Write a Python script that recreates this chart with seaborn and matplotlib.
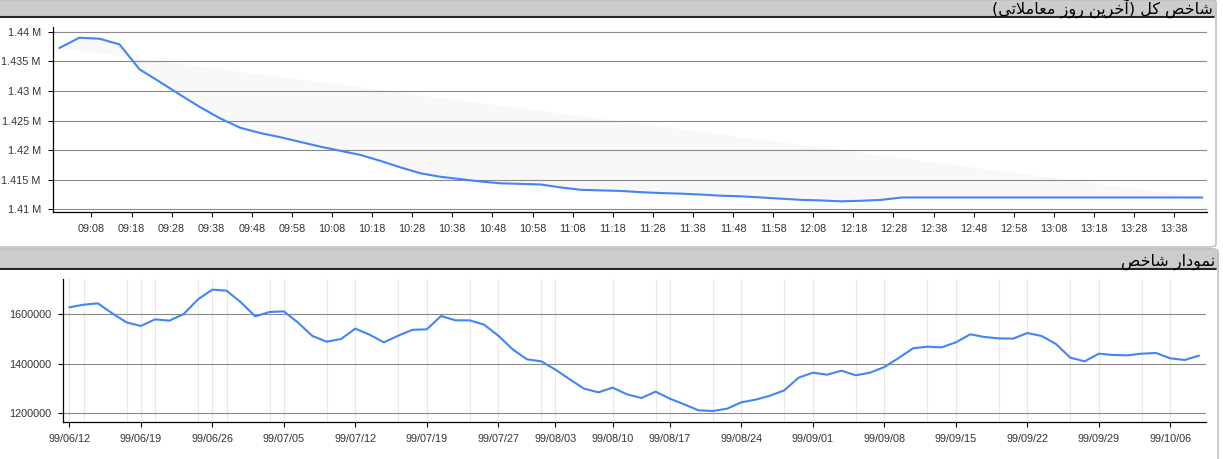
import matplotlib
matplotlib.use("Agg")
import matplotlib.pyplot as plt
from matplotlib.patches import FancyBboxPatch
from matplotlib.lines import Line2D
import seaborn as sns
import pandas as pd

# ---------------- data ----------------
top_title = "شاخص کل (آخرین روز معاملاتی)"
bottom_title = "نمودار شاخص"

intraday_times = [
    "09:00", "09:05", "09:10", "09:15", "09:20", "09:25", "09:30", "09:35", "09:40", "09:45",
    "09:50", "09:55", "10:00", "10:05", "10:10", "10:15", "10:20", "10:25", "10:30", "10:35",
    "10:40", "10:45", "10:50", "10:55", "11:00", "11:05", "11:10", "11:15", "11:20", "11:25",
    "11:30", "11:35", "11:40", "11:45", "11:50", "11:55", "12:00", "12:05", "12:10", "12:15",
    "12:20", "12:25", "12:30", "12:35", "12:40", "12:45", "12:50", "12:55", "13:00", "13:05",
    "13:10", "13:15", "13:20", "13:25", "13:30", "13:35", "13:40", "13:45",
]
intraday_values = [
    1437250, 1438990, 1438820, 1437870, 1433650, 1431550, 1429400, 1427300, 1425400, 1423800,
    1422900, 1422200, 1421400, 1420600, 1419900, 1419200, 1418200, 1417100, 1416100, 1415500,
    1415100, 1414700, 1414400, 1414300, 1414200, 1413700, 1413300, 1413200, 1413100, 1412900,
    1412750, 1412650, 1412500, 1412300, 1412200, 1412000, 1411800, 1411600, 1411500, 1411350,
    1411450, 1411600, 1412000, 1412000, 1412000, 1412000, 1412000, 1412000, 1412000, 1412000,
    1412000, 1412000, 1412000, 1412000, 1412000, 1412000, 1412000, 1412000,
]
intraday_tick_labels = [
    "09:08", "09:18", "09:28", "09:38", "09:48", "09:58", "10:08", "10:18", "10:28", "10:38",
    "10:48", "10:58", "11:08", "11:18", "11:28", "11:38", "11:48", "11:58", "12:08", "12:18",
    "12:28", "12:38", "12:48", "12:58", "13:08", "13:18", "13:28", "13:38",
]
intraday_y_ticks = [1410000, 1415000, 1420000, 1425000, 1430000, 1435000, 1440000]
intraday_y_labels = ["1.41 M", "1.415 M", "1.42 M", "1.425 M", "1.43 M", "1.435 M", "1.44 M"]

daily_values = [
    1628300, 1639000, 1644400, 1604000, 1567700, 1552900, 1579800, 1574400, 1601300, 1660600,
    1699700, 1695600, 1648500, 1591900, 1609400, 1612100, 1566300, 1512400, 1489500, 1500300,
    1542100, 1517800, 1486800, 1513800, 1537500, 1539400, 1593300, 1575800, 1575800, 1558200,
    1513800, 1458600, 1418200, 1410100, 1376400, 1337300, 1299600, 1284800, 1303700, 1276700,
    1261900, 1287500, 1259200, 1236300, 1212100, 1209400, 1218800, 1244400, 1255200, 1271300,
    1292800, 1344100, 1364300, 1356000, 1372400, 1353500, 1364300, 1387200, 1423500, 1462600,
    1469300, 1466600, 1486800, 1519200, 1508400, 1503000, 1501700, 1524600, 1512400, 1480100,
    1424900, 1410100, 1441100, 1435700, 1434300, 1441100, 1443700, 1422200, 1415500, 1433000,
]
daily_tick_index = [0, 5, 10, 15, 20, 25, 30, 34, 38, 42, 47, 52, 57, 62, 67, 72, 77]
daily_tick_labels = [
    "99/06/12", "99/06/19", "99/06/26", "99/07/05", "99/07/12", "99/07/19", "99/07/27",
    "99/08/03", "99/08/10", "99/08/17", "99/08/24", "99/09/01", "99/09/08", "99/09/15",
    "99/09/22", "99/09/29", "99/10/06",
]
daily_minor_grid_index = [1, 4, 6, 9, 11, 14, 18, 23, 28, 33, 41, 45, 50, 55, 60, 65, 70, 75]
daily_y_ticks = [1200000, 1400000, 1600000]
daily_y_labels = ["1200000", "1400000", "1600000"]


# ---------------- minimal Persian shaping for display ----------------
FORMS = {
    "\u0627": ("\uFE8D", "\uFE8E", None, None),
    "\u0622": ("\uFE81", "\uFE82", None, None),
    "\u0628": ("\uFE8F", "\uFE90", "\uFE91", "\uFE92"),
    "\u062A": ("\uFE95", "\uFE96", "\uFE97", "\uFE98"),
    "\u062E": ("\uFEA5", "\uFEA6", "\uFEA7", "\uFEA8"),
    "\u062F": ("\uFEA9", "\uFEAA", None, None),
    "\u0631": ("\uFEAD", "\uFEAE", None, None),
    "\u0632": ("\uFEAF", "\uFEB0", None, None),
    "\u0634": ("\uFEB5", "\uFEB6", "\uFEB7", "\uFEB8"),
    "\u0635": ("\uFEB9", "\uFEBA", "\uFEBB", "\uFEBC"),
    "\u0639": ("\uFEC9", "\uFECA", "\uFECB", "\uFECC"),
    "\u0643": ("\uFED9", "\uFEDA", "\uFEDB", "\uFEDC"),
    "\u0644": ("\uFEDD", "\uFEDE", "\uFEDF", "\uFEE0"),
    "\u0645": ("\uFEE1", "\uFEE2", "\uFEE3", "\uFEE4"),
    "\u0646": ("\uFEE5", "\uFEE6", "\uFEE7", "\uFEE8"),
    "\u0648": ("\uFEED", "\uFEEE", None, None),
    "\u0649": ("\uFEEF", "\uFEF0", None, None),
    "\u064A": ("\uFEF1", "\uFEF2", "\uFEF3", "\uFEF4"),
    "\u06A9": ("\uFB8E", "\uFB8F", "\uFB90", "\uFB91"),
    "\u06CC": ("\uFBFC", "\uFBFD", "\uFBFE", "\uFBFF"),
    "LA": ("\uFEFB", "\uFEFC", None, None),
    "LAA": ("\uFEF5", "\uFEF6", None, None),
}


def shape_rtl(text):
    chars = []
    i = 0
    while i < len(text):
        c = text[i]
        if c == "\u0644" and i + 1 < len(text) and text[i + 1] in ("\u0627", "\u0622"):
            chars.append("LA" if text[i + 1] == "\u0627" else "LAA")
            i += 2
            continue
        chars.append(c)
        i += 1
    out = []
    for k, c in enumerate(chars):
        if c not in FORMS:
            out.append(c)
            continue
        prev = chars[k - 1] if k > 0 else None
        nxt = chars[k + 1] if k + 1 < len(chars) else None
        jp = prev in FORMS and FORMS[prev][2] is not None
        jn = FORMS[c][2] is not None and nxt in FORMS
        iso, fin, ini, med = FORMS[c]
        if jp and jn:
            out.append(med)
        elif jp:
            out.append(fin)
        elif jn:
            out.append(ini)
        else:
            out.append(iso)
    vis = "".join(reversed(out))
    return vis.translate(str.maketrans({"(": ")", ")": "("}))


# ---------------- style ----------------
sns.set_style("white")
plt.rcParams["font.family"] = ["Liberation Sans", "DejaVu Sans"]

W, H = 1223, 459
fig = plt.figure(figsize=(W / 100, H / 100), dpi=100)
fig.patch.set_facecolor("white")


def fx(px):
    return px / W


def fy(py):
    return 1 - py / H


LINE_COLOR = "#4285F4"
GRID_COLOR = "#8a8a8a"
LABEL_COLOR = "#333333"
HEADER_GRAY = "#cccccc"
BORDER = "#c4c4c4"


def panel(y0, y1, x1, header_h, title):
    body = FancyBboxPatch((fx(-20), fy(y1)), fx(x1 + 20), (y1 - y0) / H,
                          boxstyle="round,pad=0,rounding_size=0.006",
                          transform=fig.transFigure, facecolor="white",
                          edgecolor=BORDER, linewidth=1.2, zorder=-5)
    fig.add_artist(body)
    head = FancyBboxPatch((fx(-20), fy(y0 + header_h)), fx(x1 + 20), header_h / H,
                          boxstyle="round,pad=0,rounding_size=0.004",
                          transform=fig.transFigure, facecolor=HEADER_GRAY,
                          edgecolor="#bdbdbd", linewidth=0.8, zorder=-4)
    fig.add_artist(head)
    fig.add_artist(Line2D([fx(0), fx(x1 - 2)], [fy(y0 + header_h + 0.5)] * 2,
                          transform=fig.transFigure, color="#111111",
                          linewidth=1.3, zorder=-3))
    fig.text(fx(x1 - 3), fy(y0 + header_h - 2.5), shape_rtl(title),
             ha="right", va="baseline", fontsize=11.5, color="black",
             family=["DejaVu Sans"], zorder=5)


panel(0, 247, 1216, 16, top_title)
panel(249, 480, 1218, 19, bottom_title)

# ---------------- top chart ----------------
ax1 = fig.add_axes([fx(52.7), fy(211.7), fx(1206.7 - 52.7), (211.7 - 26.7) / H])
ax1.set_facecolor("none")


def to_min(t):
    h, m = t.split(":")
    return (int(h) - 9) * 60 + int(m)


df_top = pd.DataFrame({"t": [to_min(t) for t in intraday_times], "v": intraday_values})
ax1.fill(df_top["t"], df_top["v"], color="#f8f8f8", zorder=0.2, linewidth=0)
sns.lineplot(data=df_top, x="t", y="v", ax=ax1, color=LINE_COLOR, linewidth=1.5, zorder=3)

ax1.set_xlim(-1.65, 286.1)
ax1.set_ylim(1409600, 1440850)
ax1.set_xticks([to_min(t) for t in intraday_tick_labels])
ax1.set_xticklabels(intraday_tick_labels)
ax1.set_yticks(intraday_y_ticks)
ax1.set_yticklabels(intraday_y_labels)

# ---------------- bottom chart ----------------
ax2 = fig.add_axes([fx(63.3), fy(422), fx(1205.7 - 63.3), (422 - 279) / H])
ax2.set_facecolor("none")
df_bot = pd.DataFrame({"i": list(range(len(daily_values))), "v": daily_values})
sns.lineplot(data=df_bot, x="i", y="v", ax=ax2, color=LINE_COLOR, linewidth=1.5, zorder=3)
ax2.set_xlim(-0.42, 79.47)
ax2.set_ylim(1164900, 1742800)
ax2.set_xticks(daily_tick_index)
ax2.set_xticklabels(daily_tick_labels)
ax2.set_xticks(daily_minor_grid_index, minor=True)
ax2.set_yticks(daily_y_ticks)
ax2.set_yticklabels(daily_y_labels)
ax2.grid(True, axis="x", which="both", color="#e8e8e8", linewidth=0.8, zorder=0.1)
ax2.tick_params(axis="x", which="minor", length=0)

for ax in (ax1, ax2):
    ax.set_xlabel("")
    ax.set_ylabel("")
    ax.set_axisbelow(True)
    ax.grid(True, axis="y", color=GRID_COLOR, linewidth=0.8)
    for s in ("top", "right"):
        ax.spines[s].set_visible(False)
    for s in ("left", "bottom"):
        ax.spines[s].set_color("black")
        ax.spines[s].set_linewidth(0.9)
    ax.tick_params(axis="both", which="major", direction="out", length=3.6, width=0.75,
                   color="black", labelsize=7.8, labelcolor=LABEL_COLOR, pad=5)
    ax.tick_params(left=True, bottom=True)

fig.savefig("out.png", dpi=100, facecolor="white")
